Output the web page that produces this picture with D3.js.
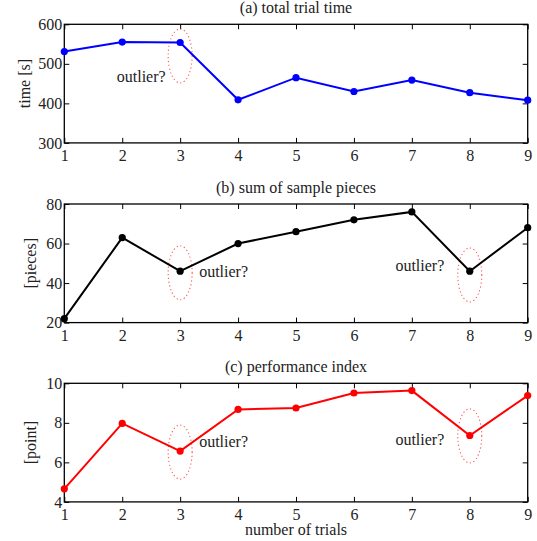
<!DOCTYPE html>
<html>
<head>
<meta charset="utf-8">
<script src="https://cdn.jsdelivr.net/npm/d3@7"></script>
<style>
  body { margin: 0; background: #fff; }
  svg text { font-family: "Liberation Serif", "DejaVu Serif", serif; fill: #222; }
</style>
</head>
<body>
<div id="chart"></div>
<script>
// trials on the x axis
const trials = [1, 2, 3, 4, 5, 6, 7, 8, 9];

// (a) total trial time [s]
const trialTime = [531, 555, 554, 409, 465, 430, 459, 427, 408];
// (b) sum of sample pieces
const samplePieces = [22, 63, 46, 60, 66, 72, 76, 46, 68];
// (c) performance index
const perfIndex = [4.66, 7.97, 6.57, 8.68, 8.75, 9.51, 9.63, 7.36, 9.38];

const titles = ["(a) total trial time", "(b) sum of sample pieces", "(c) performance index"];
const yLabels = ["time [s]", "[pieces]", "[point]"];
const yDomains = [[300, 600], [20, 80], [4, 10]];
const yTicks = [[300, 400, 500, 600], [20, 40, 60, 80], [4, 6, 8, 10]];
const colors = ["#0000ff", "#000000", "#ff0000"];

// outlier marks: which trial, centre value of the dotted ellipse, value of the label baseline
const outlierTrials = [[3], [3, 8], [3, 8]];
const ellipseValues = [[520], [45.2, 44.1], [6.52, 7.34]];
const labelValues = [[455], [43.1, 46.3], [6.77, 6.87]];
// label offset from the ellipse centre, px (negative = label on the left)
const labelDx = [[-14.5], [19, -25.5], [19, -25.5]];

const W = 537, H = 541;
const left = 64.3, right = 527.7;
const tops = [24.3, 204, 383.3];
const ph = 118.6;
const fs = 16;
const yLabelX = [30, 36, 36];

const svg = d3.select("#chart").append("svg")
  .attr("width", W)
  .attr("height", H);

const x = d3.scaleLinear().domain([1, 9]).range([left, right]);

const series = [trialTime, samplePieces, perfIndex];

series.forEach(function(vals, k) {
  const top = tops[k];
  const y = d3.scaleLinear().domain(yDomains[k]).range([top + ph, top]);
  const g = svg.append("g");

  // inward ticks on all four sides
  const ax = [
    d3.axisBottom(x).tickValues(trials).tickSizeInner(-5).tickSizeOuter(0).tickPadding(7),
    d3.axisTop(x).tickValues(trials).tickSizeInner(-5).tickSizeOuter(0).tickFormat(""),
    d3.axisLeft(y).tickValues(yTicks[k]).tickSizeInner(-5).tickSizeOuter(0).tickPadding(2).tickFormat(d3.format("d")),
    d3.axisRight(y).tickValues(yTicks[k]).tickSizeInner(-5).tickSizeOuter(0).tickFormat("")
  ];
  const pos = ["translate(0," + (top + ph) + ")", "translate(0," + top + ")",
               "translate(" + left + ",0)", "translate(" + right + ",0)"];
  ax.forEach(function(a, i) {
    const ga = g.append("g").attr("transform", pos[i]).call(a);
    ga.select(".domain").remove();
    ga.selectAll("line").attr("stroke", "#000").attr("stroke-width", 1);
    ga.selectAll("text")
      .attr("font-family", "Liberation Serif, serif")
      .attr("font-size", fs).attr("fill", "#222");
  });

  // frame
  g.append("rect")
    .attr("x", left).attr("y", top)
    .attr("width", right - left).attr("height", ph)
    .attr("fill", "none").attr("stroke", "#000").attr("stroke-width", 1.3);

  // title
  g.append("text")
    .attr("x", (left + right) / 2).attr("y", top - 11.5)
    .attr("text-anchor", "middle").attr("font-size", fs)
    .text(titles[k]);

  // y label
  g.append("text")
    .attr("transform", "translate(" + yLabelX[k] + "," + (top + ph / 2) + ") rotate(-90)")
    .attr("text-anchor", "middle").attr("font-size", fs)
    .text(yLabels[k]);

  // outlier ellipses + labels
  outlierTrials[k].forEach(function(t, j) {
    const cx = x(t);
    g.append("ellipse")
      .attr("cx", cx).attr("cy", y(ellipseValues[k][j]))
      .attr("rx", 12).attr("ry", 27)
      .attr("fill", "none").attr("stroke", "#ff5a5a")
      .attr("stroke-width", 1.1).attr("stroke-dasharray", "1.2,2.6");
    const dx = labelDx[k][j];
    g.append("text")
      .attr("x", cx + dx)
      .attr("y", y(labelValues[k][j]))
      .attr("text-anchor", dx < 0 ? "end" : "start")
      .attr("font-size", fs)
      .text("outlier?");
  });

  // the series
  const line = d3.line()
    .x(function(d, i) { return x(trials[i]); })
    .y(function(d) { return y(d); });

  g.append("path")
    .datum(vals)
    .attr("d", line)
    .attr("fill", "none")
    .attr("stroke", colors[k])
    .attr("stroke-width", 2);

  g.selectAll(".dot")
    .data(vals)
    .enter()
    .append("circle")
    .attr("class", "dot")
    .attr("cx", function(d, i) { return x(trials[i]); })
    .attr("cy", function(d) { return y(d); })
    .attr("r", 3.6)
    .attr("fill", colors[k]);
});

// x label
svg.append("text")
  .attr("x", (left + right) / 2).attr("y", 535)
  .attr("text-anchor", "middle").attr("font-size", fs)
  .text("number of trials");
</script>
</body>
</html>
